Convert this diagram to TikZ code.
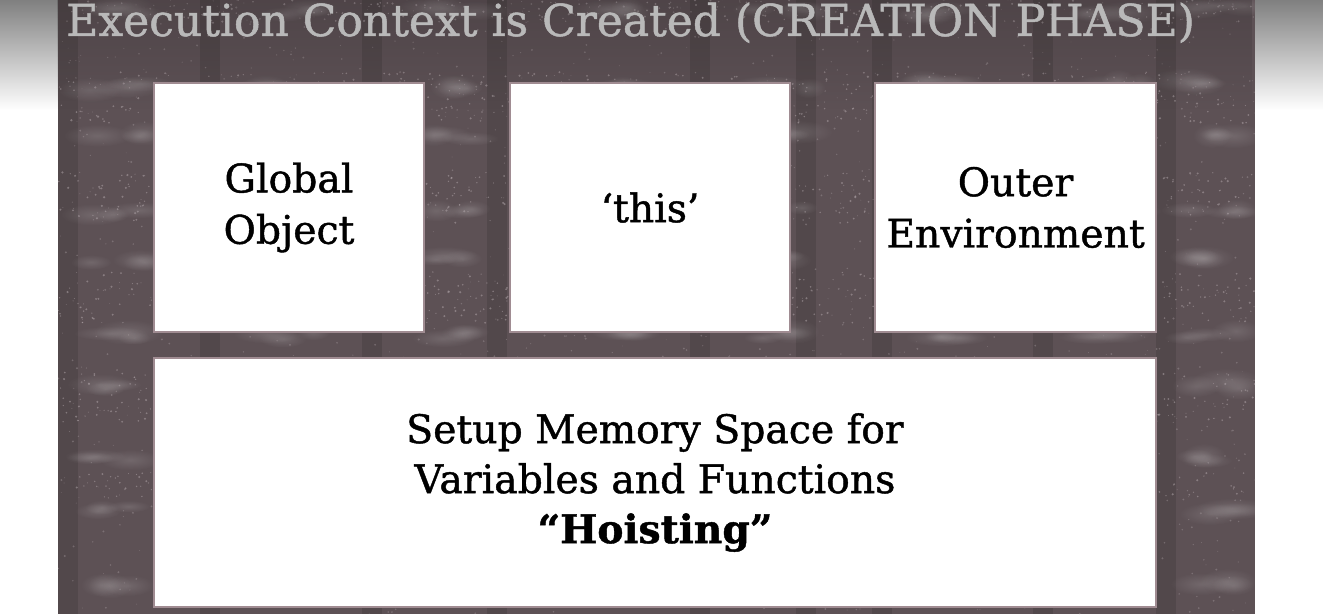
\documentclass[tikz,border=0pt]{standalone}
\usepackage{fontspec}
\setmainfont{DejaVu Serif}
\newfontfamily\slabtext{DejaVu Serif}[FakeBold=1.1]
\usetikzlibrary{fadings}

\definecolor{panelbg}{HTML}{5D5155}
\definecolor{speck}{HTML}{B5AAAE}
\definecolor{cardedge}{HTML}{A08C92}
\definecolor{titlegray}{HTML}{B9B9B9}

% soft vertical fade for the darkened strip along the top
\tikzfading[name=topshade, top color=transparent!50, bottom color=transparent!100]
% radial fade used for the pale blotches of the worn texture
\tikzfading[name=blobfade, inner color=transparent!0, outer color=transparent!100]

\tikzset{
  card/.style={draw=cardedge, line width=0.9pt, fill=white, inner sep=0pt,
    text=black, align=center, font=\slabtext\fontsize{29.5}{38.5}\selectfont},
  wide card/.style={card, font=\slabtext\fontsize{29.5}{37.5}\selectfont},
  headline/.style={anchor=base west, inner sep=0pt, text=titlegray,
    font=\slabtext\fontsize{33}{38}\selectfont},
  darkband/.style={black, opacity=0.11},
  blob/.style={white, opacity=0.13, path fading=blobfade},
  grain/.style={speck, opacity=0.5}
}

\begin{document}
\begin{tikzpicture}[x=0.75pt, y=-0.75pt]
  \useasboundingbox (0,0) rectangle (1323,614);
  \fill[white] (0,0) rectangle (1323,614);

  % textured backdrop
  \fill[panelbg] (58,0) rectangle (1255,614);
  \begin{scope}
    \clip (58,0) rectangle (1255,614);
    \foreach \bx in {68,210,372,497,700,806,882,1043,1166}
      \fill[darkband] (\bx-10,0) rectangle (\bx+10,614);
    \pgfmathsetseed{314}
    \foreach \cy in {10,85,134,210,259,335,384,460,509,585}
      \foreach \cx in {115,283,445,610,780,945,1110,1215}
        \foreach \n in {1,2,3}{
          \pgfmathsetmacro{\ox}{\cx+60*(rnd-0.5)}
          \pgfmathsetmacro{\oy}{\cy+10*(rnd-0.5)}
          \pgfmathsetmacro{\rx}{16+22*rnd}
          \pgfmathsetmacro{\ry}{6+7*rnd}
          \fill[blob] (\ox,\oy) ellipse[x radius=\rx, y radius=\ry];
        }
    % grain concentrated along the pale streaks
    \foreach \k in {1,...,3000}{
      \pgfmathsetmacro{\row}{int(10*rnd)}
      \pgfmathsetmacro{\gy}{10+75*\row-50*int(\row/2)+26*(rnd-0.5)}
      \pgfmathsetmacro{\gx}{58+1197*rnd}
      \pgfmathsetmacro{\gr}{0.4+0.8*rnd}
      \fill[grain] (\gx,\gy) circle[radius=\gr];
    }
    % scattered grain over the whole backdrop
    \foreach \k in {1,...,1500}{
      \pgfmathsetmacro{\gx}{58+1197*rnd}
      \pgfmathsetmacro{\gy}{614*rnd}
      \pgfmathsetmacro{\gr}{0.4+0.7*rnd}
      \fill[grain, opacity=0.35] (\gx,\gy) circle[radius=\gr];
    }
  \end{scope}

  % darkened strip along the top edge
  \fill[black, path fading=topshade] (0,0) rectangle (58,110);
  \fill[black, path fading=topshade] (1255,0) rectangle (1323,110);
  \fill[black, opacity=0.3, path fading=topshade] (58,0) rectangle (1255,110);

  % heading
  \node[headline] (heading) at (66,36) {Execution Context is Created (CREATION PHASE)};

  % the three components in the upper row
  \node[card, minimum width=202.5pt, minimum height=186.75pt] (global) at (289,207.5)
    {Global\\Object};
  \node[card, minimum width=210pt, minimum height=186.75pt] (thisbox) at (650,207.5)
    {‘this’};
  \node[card, minimum width=210.75pt, minimum height=186.75pt] (outer) at (1015.5,207.5)
    {Outer\\Environment};

  % memory setup across the lower row
  \node[wide card, minimum width=751.5pt, minimum height=186.75pt] (memory) at (655,482.5)
    {Setup Memory Space for\\Variables and Functions\\\textbf{“Hoisting”}};
\end{tikzpicture}
\end{document}
